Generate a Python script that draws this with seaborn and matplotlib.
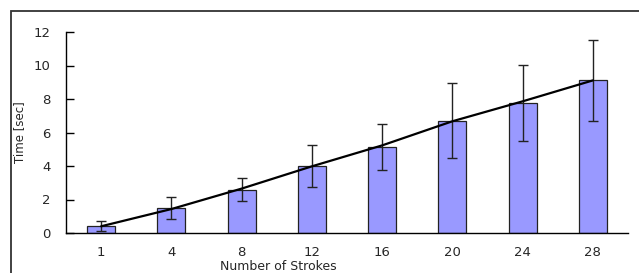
import numpy as np
import pandas as pd
import matplotlib
matplotlib.use('Agg')
import matplotlib.pyplot as plt
from matplotlib.patches import Rectangle
import seaborn as sns

# values
strokes = ['1', '4', '8', '12', '16', '20', '24', '28']
mean_time = [0.42, 1.49, 2.59, 4.00, 5.13, 6.71, 7.76, 9.11]
err_time = [0.30, 0.64, 0.70, 1.26, 1.35, 2.24, 2.27, 2.40]
trend_time = [0.40, 1.43, 2.65, 3.98, 5.23, 6.67, 7.86, 9.11]

sns.set_style('white')
plt.rcParams['font.family'] = ['DejaVu Sans']
plt.rcParams['font.size'] = 9.5

df = pd.DataFrame({'strokes': strokes, 'time': mean_time})

fig = plt.figure(figsize=(6.39, 2.73), dpi=100)
ax = fig.add_axes([66 / 639, 1 - 233 / 273, (628 - 66) / 639, (233 - 32) / 273])

sns.barplot(data=df, x='strokes', y='time', color='#9999ff', width=0.4,
            edgecolor='#222222', linewidth=0.9, saturation=1, errorbar=None, ax=ax)
ax.errorbar(np.arange(len(strokes)), mean_time, yerr=err_time, fmt='none',
            ecolor='#222222', elinewidth=1.0, capsize=3.5, capthick=1.0)
sns.lineplot(x=np.arange(len(strokes)), y=trend_time, color='black', linewidth=1.6, ax=ax)

ax.set_xlim(-0.5, len(strokes) - 0.5)
ax.set_ylim(0, 12)
ax.set_yticks(range(0, 13, 2))

# ticks between categories, labels at the centres
ax.set_xticks(np.arange(-0.5, len(strokes)), minor=True)
ax.tick_params(axis='x', which='major', length=0, pad=9)
ax.tick_params(axis='x', which='minor', direction='in', length=5, width=1, color='black')
ax.tick_params(axis='y', direction='in', length=6, width=1, color='black', pad=11, left=True)

for s in ['top', 'right']:
    ax.spines[s].set_visible(False)
for s in ['left', 'bottom']:
    ax.spines[s].set_color('black')
    ax.spines[s].set_linewidth(1.0)

ax.set_xlabel('')
ax.set_ylabel('')
fig.text(278 / 639, 1 - 266 / 273, 'Number of Strokes', ha='center', va='center', fontsize=9)
fig.text(20 / 639, 1 - 132 / 273, 'Time [sec]', ha='center', va='center', rotation=90, fontsize=8.5)

# outer frame running off the right and bottom edges
fig.patches.append(Rectangle((11 / 639, -0.2), 1.2, 1.2 - 11 / 273,
                             transform=fig.transFigure, fill=False,
                             edgecolor='#333333', linewidth=1.3))

fig.savefig('out.png', dpi=100)
